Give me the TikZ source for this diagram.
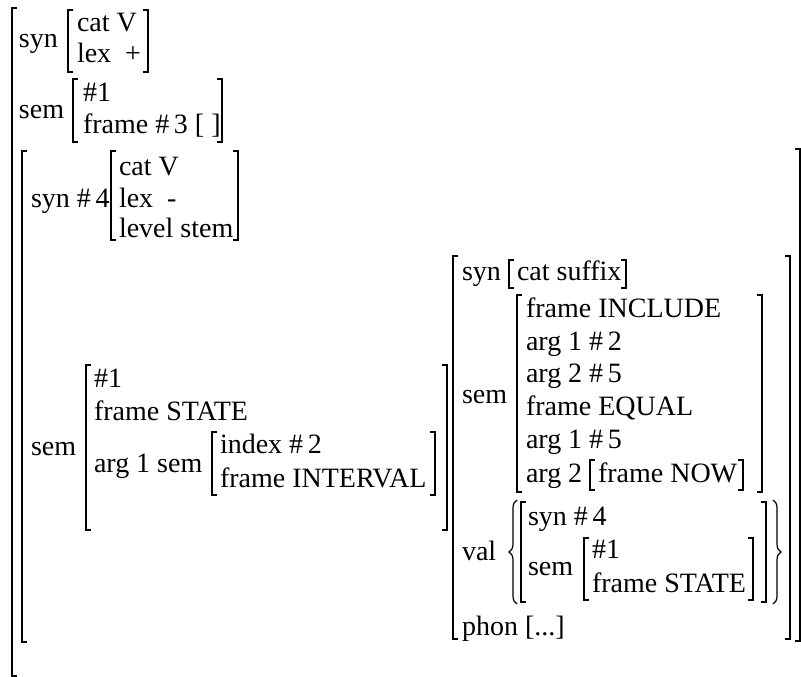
\documentclass[tikz,border=0pt]{standalone}
\usepackage{fontspec}
\setmainfont{Liberation Serif}
\usetikzlibrary{decorations.pathreplacing}

% square bracket of an attribute-value matrix: x, top y, bottom y
\newcommand\avmL[3]{\draw[brk] (#1+5,#2) -- (#1,#2) -- (#1,#3) -- (#1+5,#3);}
\newcommand\avmR[3]{\draw[brk] (#1-5,#2) -- (#1,#2) -- (#1,#3) -- (#1-5,#3);}

\begin{document}
\begin{tikzpicture}[x=1pt,y=-1pt,
  brk/.style={line width=1.3pt,line cap=butt,line join=miter},
  brc/.style={line width=1.2pt,decorate,decoration={brace,amplitude=8pt,aspect=0.5}},
  lbl/.style={anchor=base west,inner sep=0pt,outer sep=0pt,
    font=\fontsize{28pt}{33pt}\selectfont}]
\useasboundingbox (0,0) rectangle (801,677);

% top-level attributes
\node[lbl] (synA) at (19,48) {syn};
\node[lbl] (catA) at (77,32) {cat V};
\node[lbl] (lexA) at (77,63) {lex\ \ +};
\node[lbl] (semA) at (19,118) {sem};
\node[lbl] (idxA) at (83,102) {\#1};
\node[lbl] (frmA) at (83,133) {frame \#\,3 [ ]};

% stem part
\node[lbl] (synB) at (31,207) {syn \#\,4};
\node[lbl] (catB) at (119,175) {cat V};
\node[lbl] (lexB) at (119,207) {lex\ \ -};
\node[lbl] (lvlB) at (119,237) {level stem};
\node[lbl] (semB) at (31,455) {sem};
\node[lbl] (idxB) at (94,387) {\#1};
\node[lbl] (frmB) at (94,420) {frame STATE};
\node[lbl] (argB) at (94,472) {arg 1 sem};
\node[lbl] (indB) at (220,453) {index \#\,2};
\node[lbl] (intB) at (220,487) {frame INTERVAL};

% suffix part
\node[lbl] (synC) at (462,280) {syn};
\node[lbl] (catC) at (517,280) {cat suffix};
\node[lbl] (semC) at (462,403) {sem};
\node[lbl] (incC) at (526,317) {frame INCLUDE};
\node[lbl] (a1C) at (526,350) {arg 1 \#\,2};
\node[lbl] (a2C) at (526,382) {arg 2 \#\,5};
\node[lbl] (eqC) at (526,415) {frame EQUAL};
\node[lbl] (a3C) at (526,448) {arg 1 \#\,5};
\node[lbl] (a4C) at (526,482) {arg 2};
\node[lbl] (nowC) at (598,482) {frame NOW};
\node[lbl] (valC) at (462,560) {val};
\node[lbl] (vsyC) at (528,525) {syn \#\,4};
\node[lbl] (vseC) at (528,575) {sem};
\node[lbl] (vidC) at (592,558) {\#1};
\node[lbl] (vfrC) at (592,592) {frame STATE};
\node[lbl] (phoC) at (462,635) {phon [...]};

% brackets
\avmL{12}{8}{676}
\avmL{68}{10}{72}   \avmR{148}{10}{72}
\avmL{73}{79}{142}  \avmR{222}{79}{142}
\avmL{22}{151}{642} \avmR{800}{149}{641}
\avmL{111}{151}{240} \avmR{238}{151}{240}
\avmL{86}{365}{530} \avmR{447}{365}{530}
\avmL{212}{432}{495} \avmR{435}{432}{495}
\avmL{453}{256}{639} \avmR{790}{256}{639}
\avmL{509}{260}{288} \avmR{626}{260}{288}
\avmL{517}{295}{492} \avmR{762}{295}{492}
\avmL{590}{460}{490} \avmR{743}{460}{490}
\avmL{521}{502}{602} \avmR{766}{502}{602}
\avmL{584}{538}{600} \avmR{753}{538}{600}

% set braces around the val list
\draw[brc] (517,604) -- (517,500);
\draw[brc] (773,500) -- (773,604);
\end{tikzpicture}
\end{document}
